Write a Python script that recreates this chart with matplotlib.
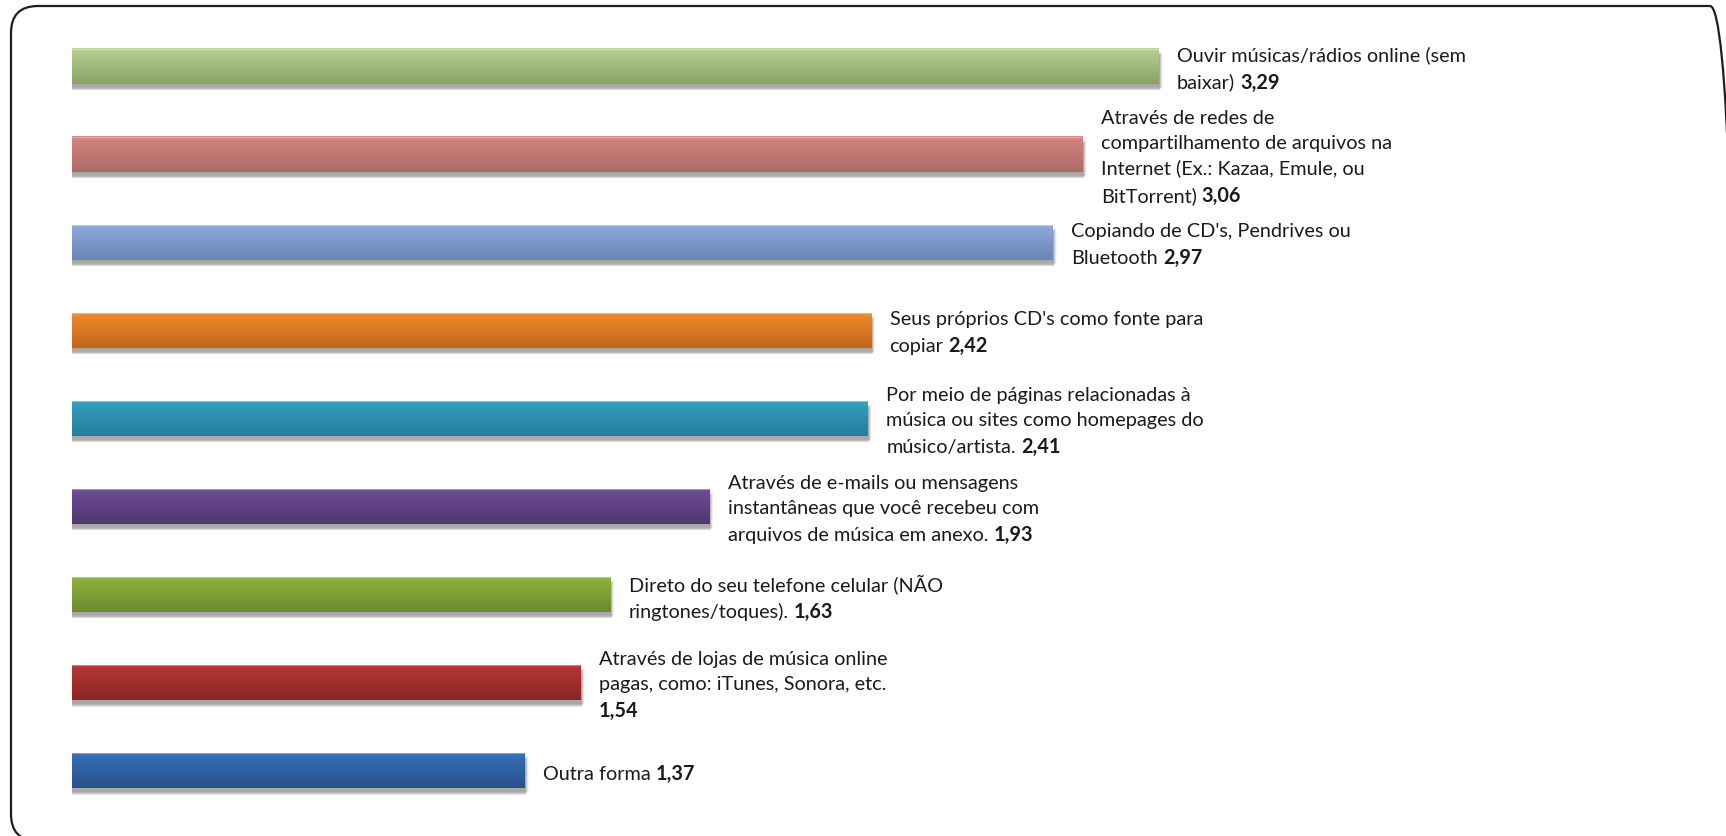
import numpy as np
import matplotlib
matplotlib.use("Agg")
import matplotlib.pyplot as plt
from matplotlib.patches import FancyBboxPatch, Rectangle
from matplotlib.colors import to_rgb
from matplotlib.offsetbox import TextArea, HPacker, VPacker, AnnotationBbox

plt.rcParams['font.family'] = ['Lato', 'DejaVu Sans']

# ---- data (top to bottom) ----
categories = [
    "Ouvir músicas/rádios online (sem\nbaixar)",
    "Através de redes de\ncompartilhamento de arquivos na\nInternet (Ex.: Kazaa, Emule, ou\nBitTorrent)",
    "Copiando de CD's, Pendrives ou\nBluetooth",
    "Seus próprios CD's como fonte para\ncopiar",
    "Por meio de páginas relacionadas à\nmúsica ou sites como homepages do\nmúsico/artista.",
    "Através de e-mails ou mensagens\ninstantâneas que você recebeu com\narquivos de música em anexo.",
    "Direto do seu telefone celular (NÃO\nringtones/toques).",
    "Através de lojas de música online\npagas, como: iTunes, Sonora, etc.\n",
    "Outra forma",
]
values = [3.29, 3.06, 2.97, 2.42, 2.41, 1.93, 1.63, 1.54, 1.37]
colors_top = ["#b7d18f", "#d6847f", "#8eaadc", "#f28a2e", "#34a2c2",
              "#6f4e98", "#8eb43f", "#b93634", "#3571b9"]
colors_bottom = ["#88a266", "#ab6b69", "#6a86b6", "#c2661b", "#257d98",
                 "#4f3770", "#6a8a2c", "#8a2624", "#275089"]

W, H = 1726, 836
fig = plt.figure(figsize=(W / 100, H / 100), dpi=100)
fig.patch.set_facecolor("white")

# rounded frame drawn in pixel coordinates (y measured from bottom)
bg = fig.add_axes([0, 0, 1, 1])
bg.set_xlim(0, W)
bg.set_ylim(0, H)
bg.axis("off")
bg.add_patch(FancyBboxPatch((11, -5), 1737 - 11, (H - 6) + 5,
                            boxstyle="round,pad=0,rounding_size=27",
                            facecolor="none", edgecolor="#1e1e1e", linewidth=1.6,
                            clip_on=False))

px_per_unit_x = 330.2
px_per_unit_y = 88.06
x0_px = 71.7
top_center_px = 66.0
xmax = (W - x0_px) / px_per_unit_x
ax = fig.add_axes([x0_px / W, 0, 1 - x0_px / W, 1])
ax.set_xlim(0, xmax)
ax.set_ylim((H - top_center_px) / px_per_unit_y, -top_center_px / px_per_unit_y)
ax.axis("off")

y = np.arange(len(values))
bh = 0.40
bars = ax.barh(y, values, height=bh, color=colors_top, edgecolor="none", zorder=3)

dx = 1 / px_per_unit_x
dy = 1 / px_per_unit_y
FS = 14.3
TXT = "#1a1a1a"
for i, (bar, v) in enumerate(zip(bars, values)):
    yc = y[i]
    # soft shadow
    for k, a in zip(range(7, 0, -1), [0.025, 0.035, 0.045, 0.055, 0.065, 0.075, 0.085]):
        ax.add_patch(Rectangle((-k * 0.5 * dx + 1 * dx, yc - bh / 2 + (5 - k * 0.5) * dy + 2 * dy),
                               v + k * dx, bh, facecolor="black", alpha=a,
                               edgecolor="none", zorder=2))
    # gradient fill
    c1 = np.array(to_rgb(colors_top[i]))
    c2 = np.array(to_rgb(colors_bottom[i]))
    t = np.linspace(0, 1, 64)[:, None]
    grad = (c1 * (1 - t) + c2 * t)[:, None, :]
    im = ax.imshow(grad, extent=(0, v, yc + bh / 2, yc - bh / 2), origin="upper",
                   aspect="auto", interpolation="bilinear", zorder=4)
    im.set_clip_path(bar)
    ax.plot([0, v], [yc - bh / 2 + 0.5 * dy] * 2, color="white", alpha=0.35,
            lw=1.0, zorder=5, solid_capstyle="butt")

    # label: regular text lines + bold value at the end
    lines = categories[i].split("\n")
    val = f"{v:.2f}".replace(".", ",")
    tp = dict(fontsize=FS, color=TXT)
    rows = [TextArea(l, textprops=tp) for l in lines[:-1]]
    last = lines[-1]
    bold = TextArea(val, textprops=dict(fontsize=FS, color=TXT, fontweight="bold"))
    if last:
        rows.append(HPacker(children=[TextArea(last, textprops=tp), bold],
                            sep=3.6, pad=0, align="baseline"))
    else:
        rows.append(bold)
    box = VPacker(children=rows, sep=5.8, pad=0, align="left")
    ab = AnnotationBbox(box, (v, yc), xybox=(13.5, -2.6), xycoords="data",
                        boxcoords="offset points", box_alignment=(0, 0.5),
                        frameon=False, pad=0, annotation_clip=False)
    ax.add_artist(ab)

fig.savefig("out.png", dpi=100, facecolor="white")
